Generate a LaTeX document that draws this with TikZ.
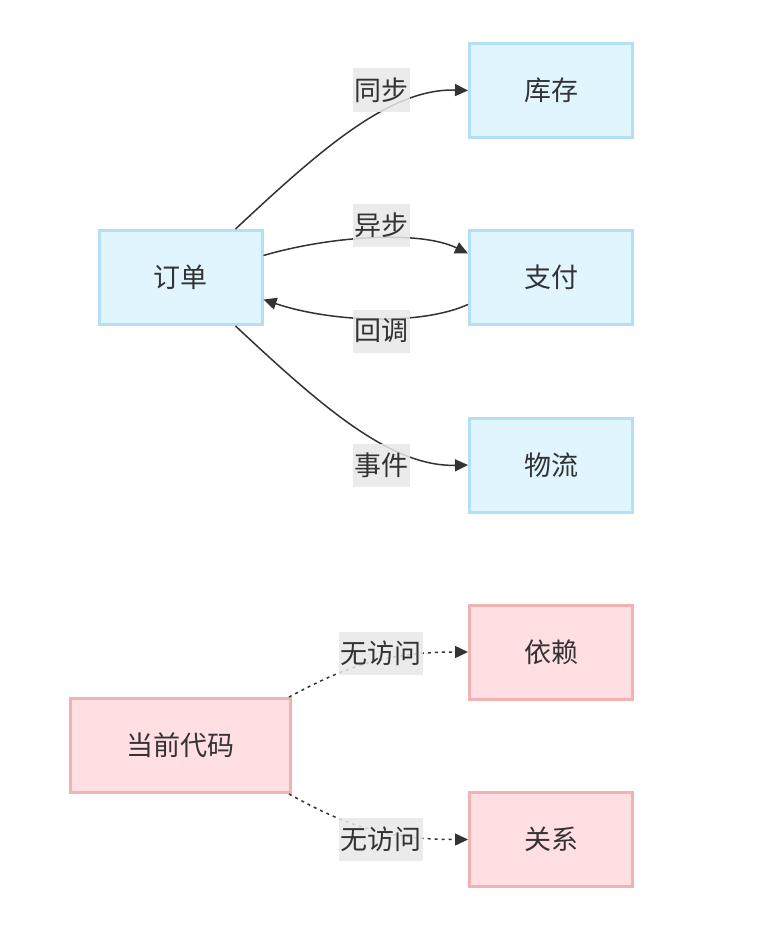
\documentclass[tikz,border=0pt]{standalone}
\usepackage{fontspec}
\setmainfont{Noto Sans CJK SC}
\usetikzlibrary{arrows.meta}
\definecolor{txt}{HTML}{333333}
\definecolor{bfill}{HTML}{E1F5FE}
\definecolor{bline}{HTML}{B3E0F5}
\definecolor{pfill}{HTML}{FFDFE2}
\definecolor{pline}{HTML}{F2B2B4}
\definecolor{lbl}{HTML}{E8E8E8}
\tikzset{
  bluebox/.style={draw=bline, fill=bfill, line width=3pt, minimum width=163pt, minimum height=94pt, text=txt, font=\fontsize{27}{31}\selectfont, inner sep=0pt},
  pinkbox/.style={draw=pline, fill=pfill, line width=3pt, minimum width=163pt, minimum height=94pt, text=txt, font=\fontsize{27}{31}\selectfont, inner sep=0pt},
  elabel/.style={fill=lbl, fill opacity=0.85, text opacity=1, text=txt, font=\fontsize{27}{31}\selectfont, inner xsep=1.5pt, inner ysep=0pt, minimum height=43pt},
  conn/.style={draw=txt, line width=1.5pt, -{Triangle[length=13pt,width=12pt]}},
  dconn/.style={conn, dash pattern=on 3pt off 4pt},
}
\begin{document}
\begin{tikzpicture}[x=1pt,y=-1pt]
\useasboundingbox (0,0) rectangle (766,950);
% nodes
\node[bluebox] (o) at (180.5,277.5) {订单};
\node[bluebox] (k) at (551,90.5) {库存};
\node[bluebox] (p) at (551,277.5) {支付};
\node[bluebox] (w) at (551,465) {物流};
\node[pinkbox, minimum width=220pt] (c) at (180.5,745.5) {当前代码};
\node[pinkbox] (y) at (551,652) {依赖};
\node[pinkbox] (g) at (551,839.5) {关系};
% connectors
\draw[conn] ([xshift=-28pt]o.north east) .. controls (320,150) and (390,88) .. (k.west);
\draw[conn] ([yshift=22pt]o.east) .. controls (330,236) and (420,230) .. ([yshift=24pt]p.west);
\draw[conn] ([yshift=-27pt]p.west) .. controls (420,326) and (330,322) .. ([yshift=-22pt]o.east);
\draw[conn] ([xshift=-28pt]o.south east) .. controls (320,405) and (390,467) .. (w.west);
\draw[dconn] ([xshift=-3pt]c.north east) .. controls (340,670) and (380,652) .. (y.west);
\draw[dconn] ([xshift=-3pt]c.south east) .. controls (340,822) and (380,839.5) .. (g.west);
% labels
\node[elabel] (l1) at (381,90) {同步};
\node[elabel] (l2) at (381,225) {异步};
\node[elabel] (l3) at (381,331) {回调};
\node[elabel] (l4) at (381,465.5) {事件};
\node[elabel] (l5) at (381,653) {无访问};
\node[elabel] (l6) at (381,839.5) {无访问};
\end{tikzpicture}
\end{document}
